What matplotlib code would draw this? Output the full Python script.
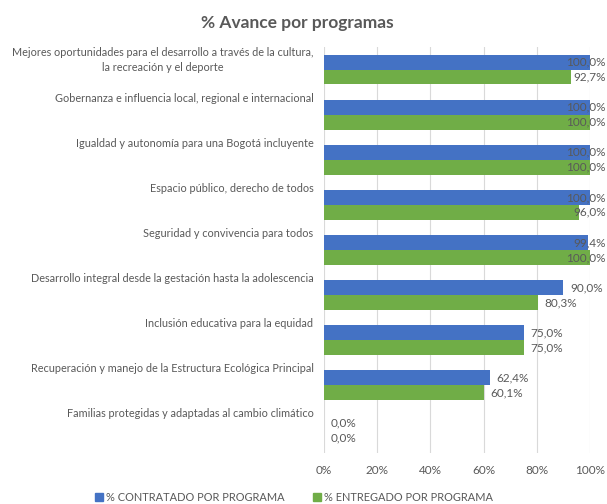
import matplotlib
matplotlib.use("Agg")
import matplotlib.pyplot as plt
import numpy as np

# data
programas = [
    "Mejores oportunidades para el desarrollo a través de la cultura,\nla recreación y el deporte",
    "Gobernanza e influencia local, regional e internacional",
    "Igualdad y autonomía para una Bogotá incluyente",
    "Espacio público, derecho de todos",
    "Seguridad y convivencia para todos",
    "Desarrollo integral desde la gestación hasta la adolescencia",
    "Inclusión educativa para la equidad",
    "Recuperación y manejo de la Estructura Ecológica Principal",
    "Familias protegidas y adaptadas al cambio climático",
]
contratado = [100.0, 100.0, 100.0, 100.0, 99.4, 90.0, 75.0, 62.4, 0.0]
entregado = [92.7, 100.0, 100.0, 96.0, 100.0, 80.3, 75.0, 60.1, 0.0]
ticks = [0, 20, 40, 60, 80, 100]
series_names = ["% CONTRATADO POR PROGRAMA", "% ENTREGADO POR PROGRAMA"]

plt.rcParams["font.family"] = ["Lato", "DejaVu Sans"]
txt = "#595959"
azul = "#4472C4"
verde = "#70AD47"

fig = plt.figure(figsize=(6.07, 5.04), dpi=100)
ax = fig.add_axes([0.5338, 0.1012, 0.4382, 0.8055])

y = np.arange(len(programas))
h = 0.33
ax.barh(y - h / 2, contratado, height=h, color=azul, zorder=3)
ax.barh(y + h / 2, entregado, height=h, color=verde, zorder=3)

ax.set_xlim(0, 100)
ax.set_ylim(len(programas) - 0.5, -0.5)
ax.set_xticks(ticks)
ax.set_xticklabels([f"{t}%" for t in ticks], fontsize=8.5, color=txt)
ax.set_yticks([])
ax.tick_params(axis="x", length=0, pad=9)
ax.grid(axis="x", color="#d9d9d9", linewidth=0.8, zorder=0)
for s in ax.spines.values():
    s.set_visible(False)

# category labels, right aligned, a bit above the group centre
for i, name in enumerate(programas):
    ax.text(-0.04, i - 0.49, name, transform=ax.get_yaxis_transform(),
            ha="right", va="top", fontsize=7.8, color=txt, linespacing=1.35,
            multialignment="center")

# value labels (pushed back inside the figure when they would run off)
def etiqueta(v):
    return f"{v:.1f}".replace(".", ",") + "%"

for serie, off in ((contratado, -h / 2), (entregado, h / 2)):
    for i, v in enumerate(serie):
        if v >= 92:
            ax.text(106, i + off, etiqueta(v), ha="right", va="center",
                    fontsize=8.5, color=txt, clip_on=False, zorder=4)
        else:
            ax.text(v + 2.5, i + off, etiqueta(v), ha="left", va="center",
                    fontsize=8.5, color=txt, clip_on=False, zorder=4)

fig.text(0.49, 0.955, "% Avance por programas", ha="center", va="center",
         fontsize=12.5, fontweight="bold", color=txt)

handles = [plt.Rectangle((0, 0), 1, 1, color=azul),
           plt.Rectangle((0, 0), 1, 1, color=verde)]
fig.legend(handles, series_names, loc="center", bbox_to_anchor=(0.485, 0.013),
           ncol=2, frameon=False, fontsize=7.9, handlelength=0.7, handleheight=0.7,
           handletextpad=0.3, columnspacing=2.6, labelcolor=txt)

fig.savefig("out.png", dpi=100)
